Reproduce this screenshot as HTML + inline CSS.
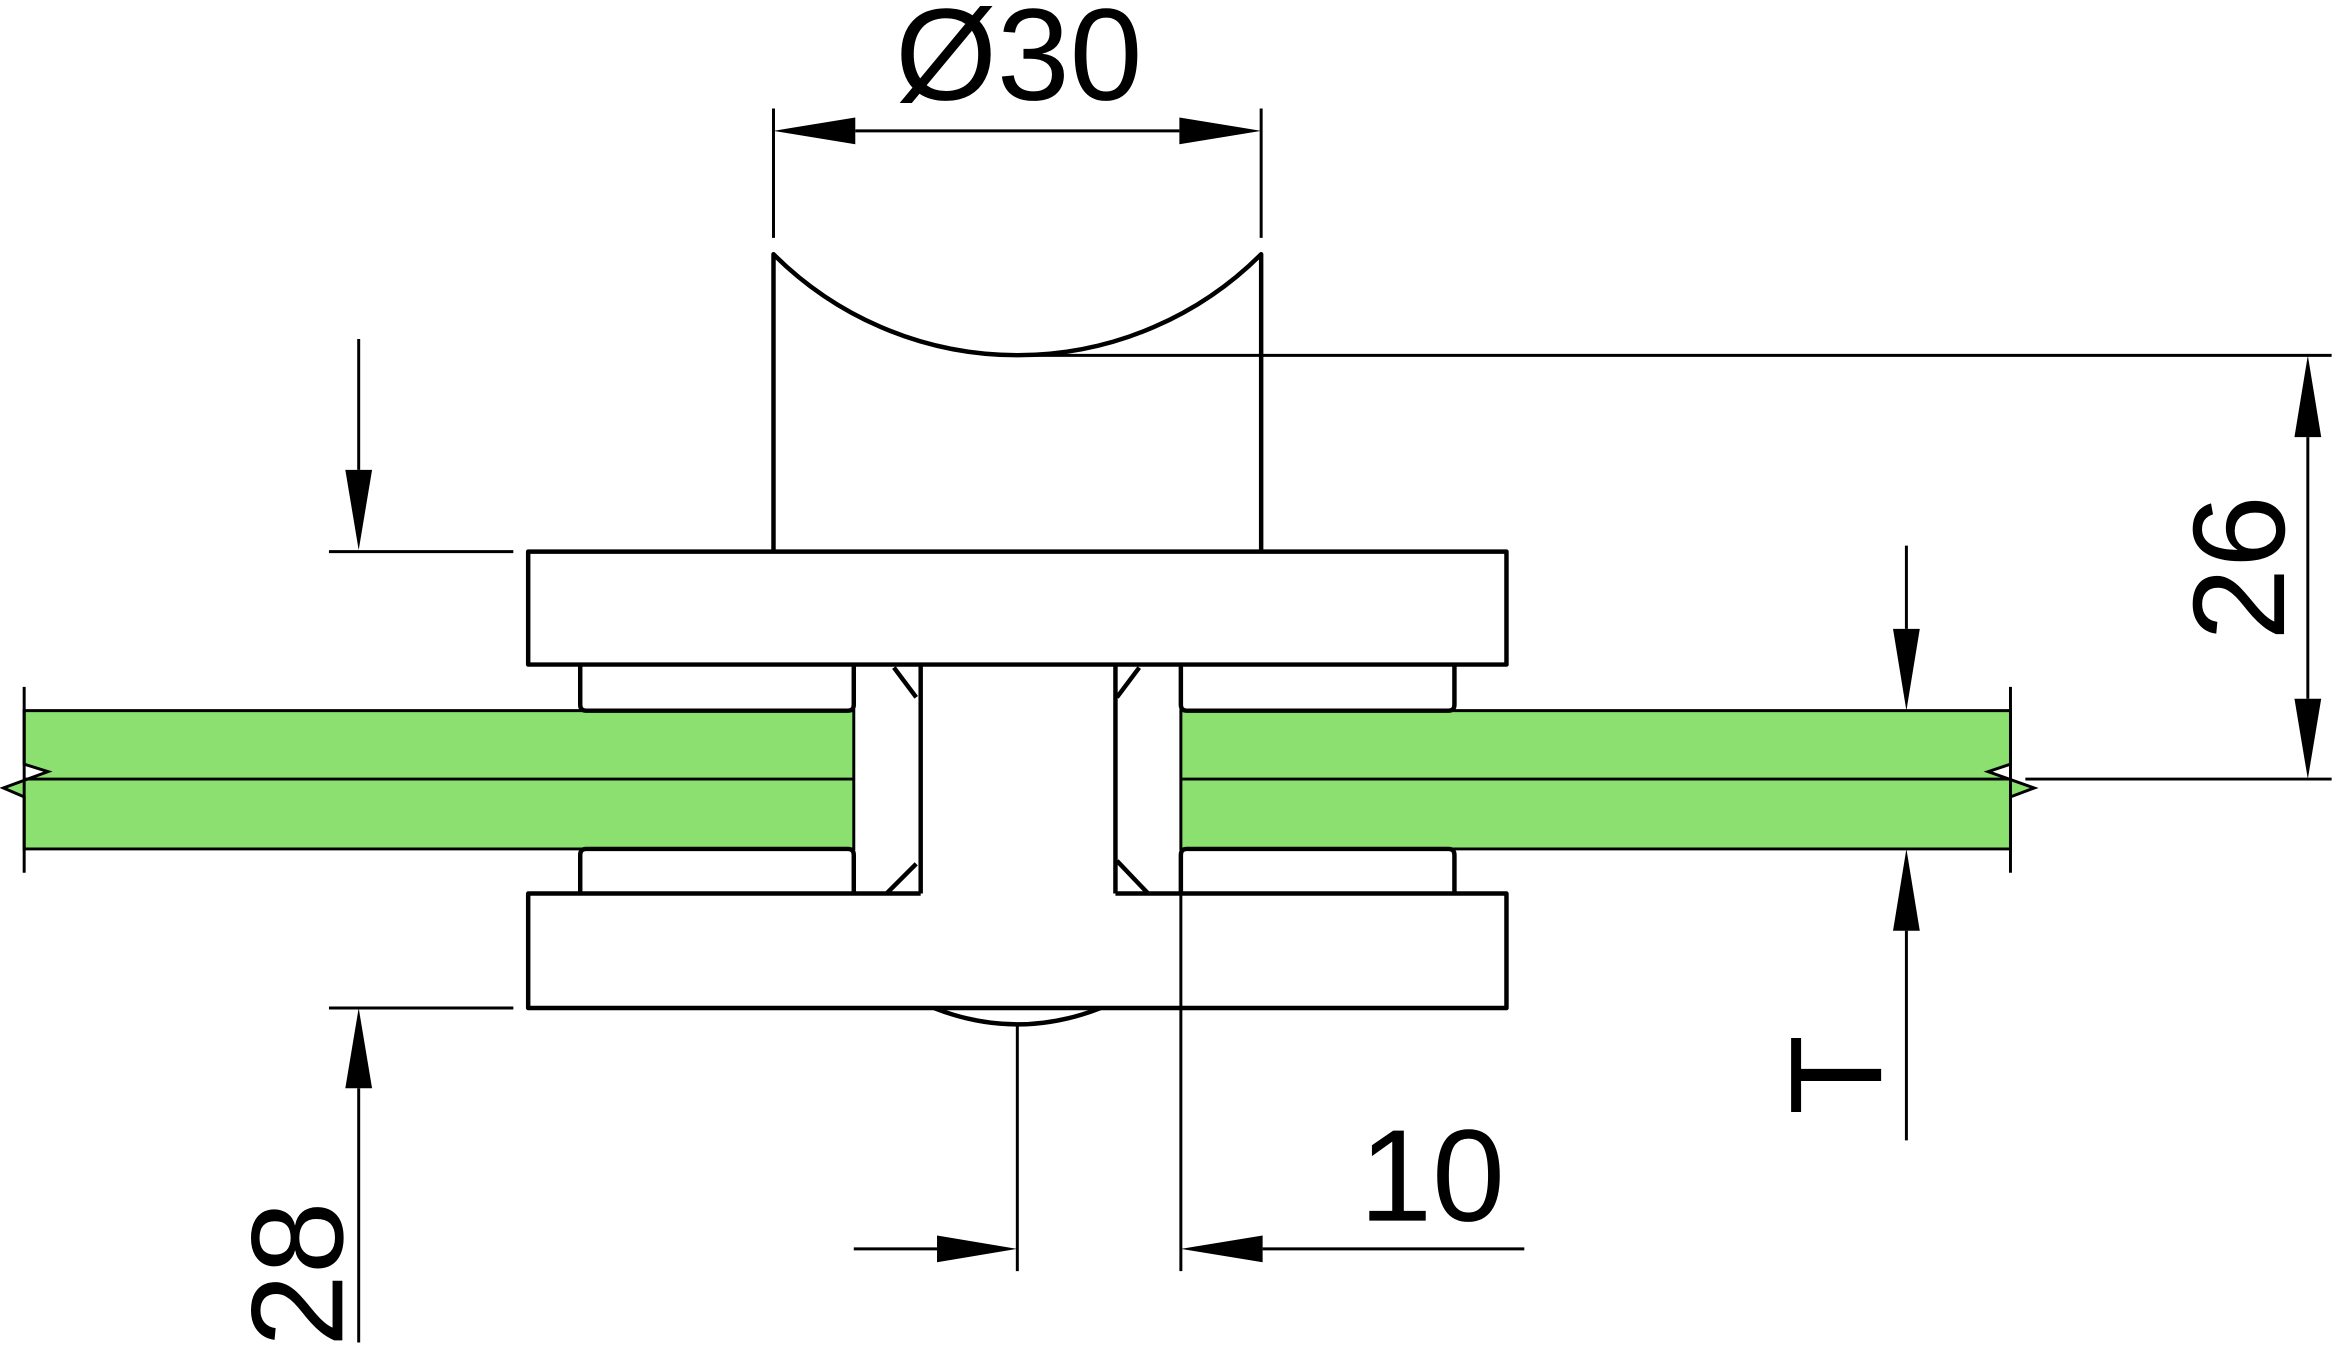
<!DOCTYPE html>
<html><head><meta charset="utf-8"><style>html,body{margin:0;padding:0;background:#fff}svg{display:block}</style></head>
<body>
<svg width="2332" height="1347" viewBox="0 0 1568 906" xmlns="http://www.w3.org/2000/svg" font-family="Liberation Sans, Arial, sans-serif">
<rect width="1568" height="906" fill="#fff"/>
<g fill="#8ce070" stroke="#000" stroke-width="2">
<polygon points="16,478 574,478 574,571 16,571 16,536 2,530 32,519 16,514"/>
<polygon points="794,478 1352,478 1352,514 1337,519 1368,530 1352,536 1352,571 794,571"/>
</g>
<g stroke="#000" stroke-width="2" fill="none">
<line x1="16" y1="524" x2="574" y2="524"/>
<line x1="794" y1="524" x2="1352" y2="524"/>
<line x1="16" y1="462" x2="16" y2="587"/>
<line x1="1352" y1="462" x2="1352" y2="587"/>
<line x1="520" y1="73" x2="520" y2="160"/>
<line x1="848" y1="73" x2="848" y2="160"/>
<line x1="575" y1="88" x2="793" y2="88"/>
<line x1="684" y1="239" x2="1568" y2="239"/>
<line x1="1362" y1="524" x2="1568" y2="524"/>
<line x1="1552" y1="294" x2="1552" y2="470"/>
<line x1="241" y1="228" x2="241" y2="316"/>
<line x1="221" y1="371" x2="345" y2="371"/>
<line x1="221" y1="678" x2="345" y2="678"/>
<line x1="241" y1="732" x2="241" y2="903"/>
<line x1="1282" y1="367" x2="1282" y2="423"/>
<line x1="1282" y1="626" x2="1282" y2="767"/>
<line x1="684" y1="688" x2="684" y2="855"/>
<line x1="794" y1="601" x2="794" y2="855"/>
<line x1="574" y1="840" x2="630" y2="840"/>
<line x1="849" y1="840" x2="1025" y2="840"/>
</g>
<g fill="#000">
<polygon points="520,88 575,79 575,97"/>
<polygon points="848,88 793,79 793,97"/>
<polygon points="1552,239 1543,294 1561,294"/>
<polygon points="1552,524 1543,470 1561,470"/>
<polygon points="241,370 232,316 250,316"/>
<polygon points="241,678 232,732 250,732"/>
<polygon points="1282,478 1273,423 1291,423"/>
<polygon points="1282,571 1273,626 1291,626"/>
<polygon points="684,840 630,831 630,849"/>
<polygon points="794,840 849,831 849,849"/>
</g>
<g stroke="#000" stroke-width="3" fill="none" stroke-linejoin="round">
<path d="M520,370 L520,171 A232,232 0 0 0 848,171 L848,370"/>
<rect x="355" y="371" width="658" height="76"/>
<path d="M619,601 L355,601 L355,678 L1013,678 L1013,601 L750,601"/>
<path d="M628,678 Q684,700 740,678"/>
<path d="M390,447 L390,474 Q390,478 394,478 L570,478 Q574,478 574,474 L574,447"/>
<path d="M390,601 L390,575 Q390,571 394,571 L570,571 Q574,571 574,575 L574,601"/>
<path d="M794,447 L794,474 Q794,478 798,478 L974,478 Q978,478 978,474 L978,447"/>
<path d="M794,601 L794,575 Q794,571 798,571 L974,571 Q978,571 978,575 L978,601"/>
<line x1="619" y1="447" x2="619" y2="601"/>
<line x1="750" y1="447" x2="750" y2="601"/>
<line x1="601" y1="449" x2="616" y2="469"/>
<line x1="596" y1="601" x2="616" y2="581"/>
<line x1="766" y1="449" x2="751" y2="469"/>
<line x1="751" y1="579" x2="772" y2="601"/>
</g>
<g font-size="88" fill="#000">
<text x="685" y="67" text-anchor="middle">Ø30</text>
<text x="963" y="821" text-anchor="middle">10</text>
<text transform="translate(230,857) rotate(-90)" text-anchor="middle">28</text>
<text transform="translate(1536,382) rotate(-90)" text-anchor="middle">26</text>
<text transform="translate(1265,723) rotate(-90)" text-anchor="middle">T</text>
</g>
</svg>
</body></html>
